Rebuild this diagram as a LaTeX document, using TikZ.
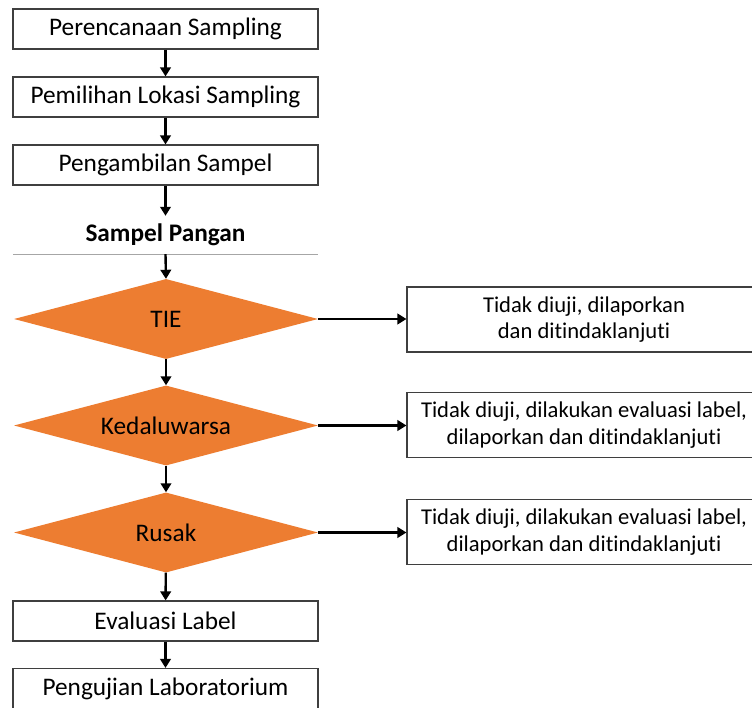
\documentclass[tikz,border=0pt]{standalone}
\usepackage{fontspec}
\setmainfont{Carlito}[RawFeature={-liga;-dlig;-clig}]
\usetikzlibrary{shapes.geometric,arrows.meta}
\definecolor{orangefill}{HTML}{ED7D31}
\definecolor{boxline}{HTML}{3F3F3F}
\definecolor{sepline}{HTML}{A6A6A6}
\begin{document}
\begin{tikzpicture}[x=1pt,y=-1pt,
  stepbox/.style={draw=boxline,line width=1.1pt,fill=white,minimum width=305pt,minimum height=40pt,inner sep=0pt,font=\fontsize{25.3}{29}\selectfont},
  sidebox/.style={draw=boxline,line width=1.1pt,fill=white,minimum width=354pt,minimum height=65pt,inner sep=0pt,align=center,font=\fontsize{22.6}{26.5}\selectfont},
  decision/.style={diamond,fill=orangefill,minimum width=304pt,minimum height=80pt,aspect=3.8,inner sep=0pt,font=\fontsize{25.3}{29}\selectfont},
  flow/.style={line width=2.4pt,-{Triangle[length=9pt,width=10.5pt]}}
]
\useasboundingbox (0,0) rectangle (752,708);
\node[stepbox] (plan) at (165.5,29) {Perencanaan Sampling};
\node[stepbox] (lok) at (165.5,97) {Pemilihan Lokasi Sampling};
\node[stepbox] (ambil) at (165.5,165) {Pengambilan Sampel};
\node[minimum width=305pt,minimum height=38pt,inner sep=0pt,font=\fontsize{25.3}{29}\selectfont\bfseries] (sp) at (165.5,235) {Sampel Pangan};
\draw[sepline,line width=1pt] (sp.south west) -- (sp.south east);
\node[decision] (tie) at (166,319) {TIE};
\node[decision] (ked) at (166,425.5) {Kedaluwarsa};
\node[decision] (rus) at (166,532.5) {Rusak};
\node[stepbox] (eval) at (165.5,621) {Evaluasi Label};
\node[stepbox] (uji) at (165.5,688.5) {Pengujian Laboratorium};
\node[sidebox] (r1) at (584,319.5) {Tidak diuji, dilaporkan\\dan ditindaklanjuti};
\node[sidebox] (r2) at (584,425) {Tidak diuji, dilakukan evaluasi label,\\dilaporkan dan ditindaklanjuti};
\node[sidebox] (r3) at (584,532) {Tidak diuji, dilakukan evaluasi label,\\dilaporkan dan ditindaklanjuti};
\draw[flow] (plan) -- (lok);
\draw[flow] (lok) -- (ambil);
\draw[flow] (ambil.south) -- (sp.north);
\draw[flow] (sp.south) -- (tie.north);
\draw[flow] (tie) -- (ked);
\draw[flow] (ked) -- (rus);
\draw[flow] (rus) -- (eval);
\draw[flow] (eval) -- (uji);
\draw[flow] (tie.east) -- (r1.west |- tie.east);
\draw[flow] (ked.east) -- (r2.west |- ked.east);
\draw[flow] (rus.east) -- (r3.west |- rus.east);
\end{tikzpicture}
\end{document}
